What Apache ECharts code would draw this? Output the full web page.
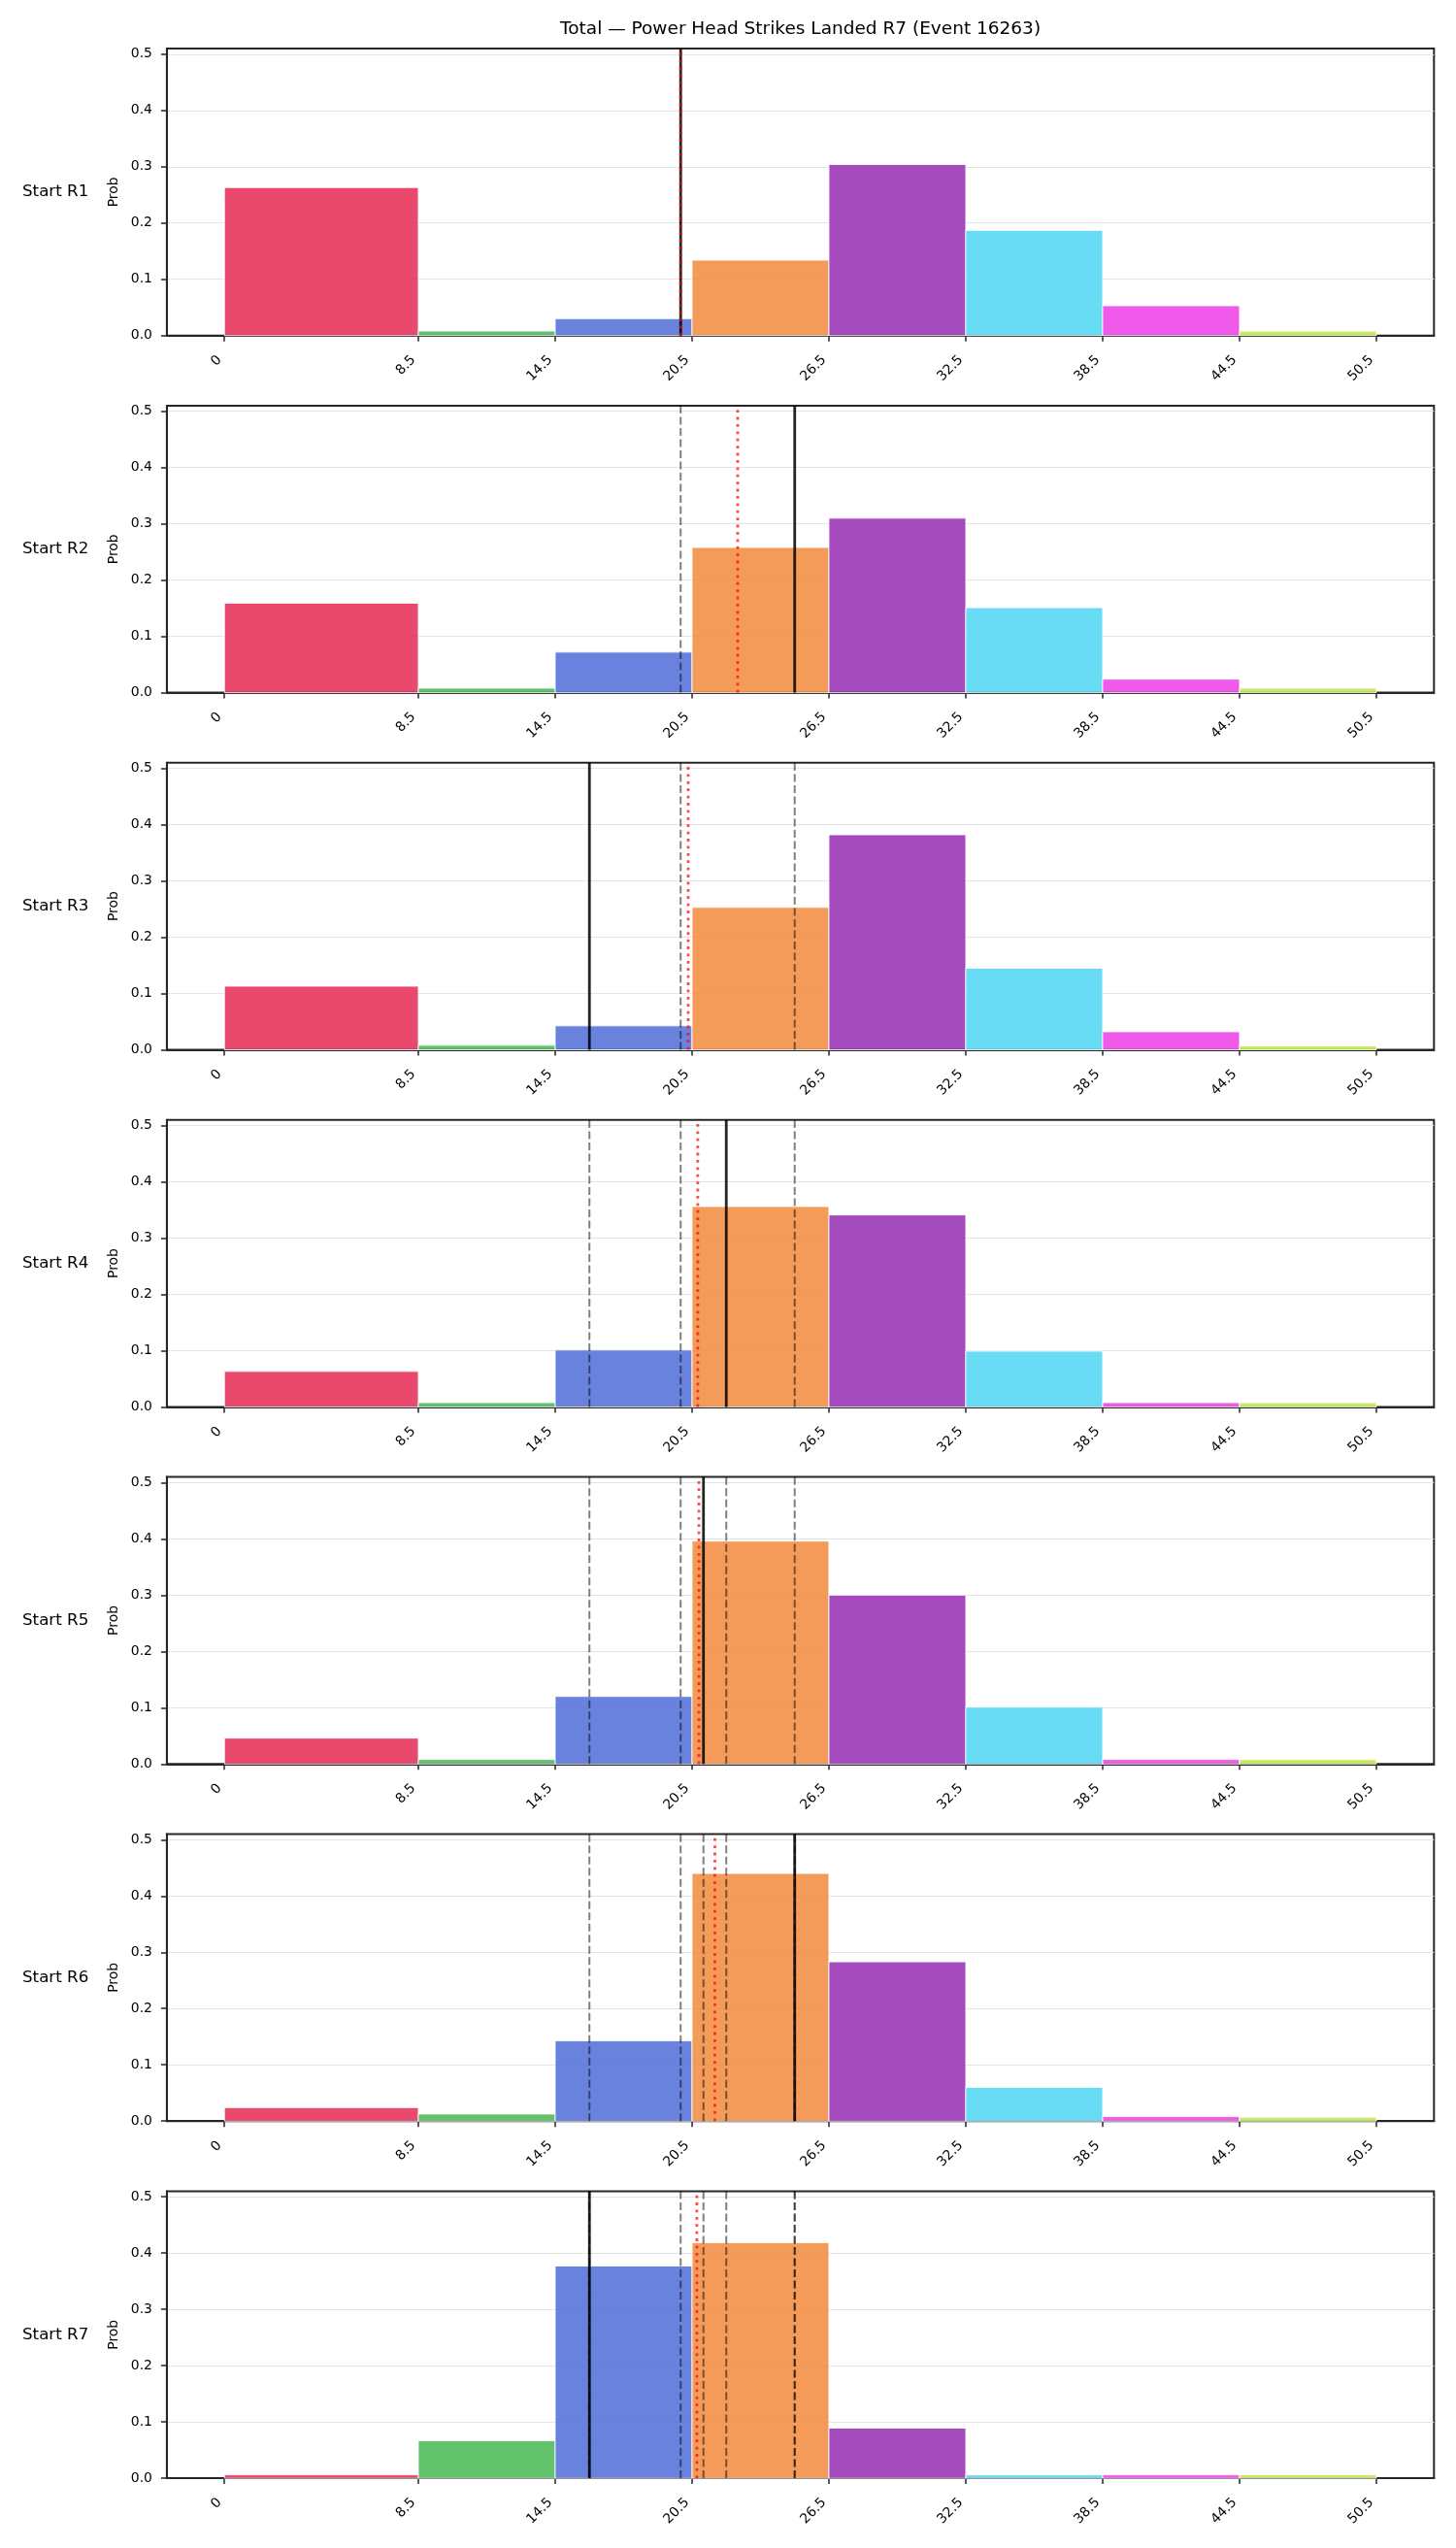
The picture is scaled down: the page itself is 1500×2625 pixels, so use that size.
<!DOCTYPE html>
<html><head><meta charset="utf-8">
<script src="https://cdn.jsdelivr.net/npm/echarts@6/dist/echarts.min.js"></script>
<style>html,body{margin:0;padding:0;background:#fff}#chart{width:1500px;height:2625px}</style>
</head><body><div id="chart"></div>
<script>
// ---------------- data ----------------
const chartTitle = 'Total — Power Head Strikes Landed R7 (Event 16263)';
const binEdges = [0, 8.5, 14.5, 20.5, 26.5, 32.5, 38.5, 44.5, 50.5];
const xTickLabels = ['0', '8.5', '14.5', '20.5', '26.5', '32.5', '38.5', '44.5', '50.5'];
const yTickValues = [0, 0.1, 0.2, 0.3, 0.4, 0.5];
const yTickLabels = ['0.0', '0.1', '0.2', '0.3', '0.4', '0.5'];
const yAxisName = 'Prob';
const rowLabels = ['Start R1', 'Start R2', 'Start R3', 'Start R4', 'Start R5', 'Start R6', 'Start R7'];
const binColors = ['#E62954', '#48B854', '#4E6CD8', '#F3893D', '#952BB2', '#4ED6F3', '#ED3DE7', '#BEE743'];

const probR1 = [0.263, 0.008, 0.030, 0.134, 0.304, 0.187, 0.053, 0.008];
const probR2 = [0.159, 0.008, 0.072, 0.258, 0.310, 0.151, 0.024, 0.008];
const probR3 = [0.113, 0.008, 0.0425, 0.253, 0.382, 0.145, 0.032, 0.007];
const probR4 = [0.063, 0.0075, 0.101, 0.356, 0.341, 0.099, 0.0075, 0.0075];
const probR5 = [0.046, 0.008, 0.120, 0.396, 0.300, 0.101, 0.008, 0.008];
const probR6 = [0.024, 0.0126, 0.1425, 0.440, 0.283, 0.060, 0.008, 0.007];
const probR7 = [0.006, 0.0667, 0.377, 0.4185, 0.089, 0.006, 0.006, 0.006];
const roundProbs = [probR1, probR2, probR3, probR4, probR5, probR6, probR7];

const roundValues = [20, 25, 16, 22, 21, 25, 16];          // black solid (current), grey dashed (earlier)
const runningMeans = [20, 22.5, 20.33, 20.75, 20.8, 21.5, 20.71]; // red dotted

// ---------------- layout ----------------
const FONT = 'DejaVu Sans';
const GL = 171.9, GR = 1477.3, TOP0 = 50, STEP = 367.9, GH = 295.7;
const XMIN = -2.525, XMAX = 53.025, YMAX = 0.51;
const SPINE = '#262626';

const grids = [], xAxes = [], yAxes = [], series = [], graphics = [];

graphics.push({type:'text', x:(GL+GR)/2, y:30, silent:true,
  style:{text:chartTitle, font:'18.5px "DejaVu Sans"', fill:'#000', textAlign:'center', textVerticalAlign:'middle'}});

roundProbs.forEach((probs, p) => {
  const top = TOP0 + STEP * p;
  grids.push({left:GL, top:top, width:GR-GL, height:GH, show:true, borderColor:SPINE, borderWidth:2, backgroundColor:'rgba(0,0,0,0)'});
  xAxes.push({type:'value', gridIndex:p, min:XMIN, max:XMAX,
    axisLine:{show:true, onZero:false, lineStyle:{color:SPINE, width:2}},
    axisTick:{show:true, customValues:binEdges, length:6, lineStyle:{color:SPINE, width:1.5}},
    axisLabel:{customValues:binEdges, rotate:45, margin:18, padding:[0,7,0,0], fontFamily:FONT, fontSize:13.9, color:'#000',
      formatter:v => xTickLabels[binEdges.indexOf(v)] ?? String(v)},
    splitLine:{show:false}});
  yAxes.push({type:'value', gridIndex:p, min:0, max:YMAX, interval:0.1,
    name:yAxisName, nameLocation:'middle', nameGap:48, nameRotate:90,
    nameTextStyle:{fontFamily:FONT, fontSize:13.9, color:'#000'},
    axisLine:{show:true, onZero:false, lineStyle:{color:SPINE, width:2}},
    axisTick:{show:true, customValues:yTickValues, length:6, lineStyle:{color:SPINE, width:1.5}},
    axisLabel:{customValues:yTickValues, margin:15, fontFamily:FONT, fontSize:13.9, color:'#000',
      formatter:v => { let k = 0; yTickValues.forEach((t,i)=>{ if (Math.abs(t-v) < Math.abs(yTickValues[k]-v)) k = i; }); return yTickLabels[k]; }},
    splitLine:{show:true, lineStyle:{color:'#e4e4e4', width:1}}});

  graphics.push({type:'text', x:23, y:top + GH/2, silent:true,
    style:{text:rowLabels[p], font:'16.7px "DejaVu Sans"', fill:'#000', textAlign:'left', textVerticalAlign:'middle'}});

  series.push({type:'custom', xAxisIndex:p, yAxisIndex:p, z:2, silent:true, animation:false,
    data: probs.map((v, i) => [binEdges[i], binEdges[i+1], v, i]),
    encode:{x:[0,1], y:2},
    renderItem(params, api) {
      const a = api.coord([api.value(0), api.value(2)]);
      const b = api.coord([api.value(1), 0]);
      return {type:'rect', shape:{x:a[0], y:a[1], width:b[0]-a[0], height:b[1]-a[1]},
        style:{fill:binColors[api.value(3)], opacity:0.85, stroke:'#ffffff', lineWidth:1}};
    }});

  const vline = (x, style, z) => ({type:'line', xAxisIndex:p, yAxisIndex:p, data:[[x,0],[x,YMAX]],
    symbol:'none', showSymbol:false, lineStyle:style, z:z, silent:true, animation:false});
  for (let j = 0; j < p; j++) {
    series.push(vline(roundValues[j], {color:'rgba(0,0,0,0.5)', width:2, type:[8,3.5]}, 3));
  }
  series.push(vline(roundValues[p], {color:'rgba(0,0,0,0.85)', width:2.8, type:'solid'}, 4));
  series.push(vline(runningMeans[p], {color:'rgba(255,0,0,0.72)', width:2.8, type:[2.8,4.6]}, 5));
});

const chart = echarts.init(document.getElementById('chart'), null, {renderer:'canvas'});
chart.setOption({
  animation:false,
  backgroundColor:'#ffffff',
  textStyle:{fontFamily:FONT},
  grid:grids, xAxis:xAxes, yAxis:yAxes, series:series, graphic:graphics
});
</script></body></html>
